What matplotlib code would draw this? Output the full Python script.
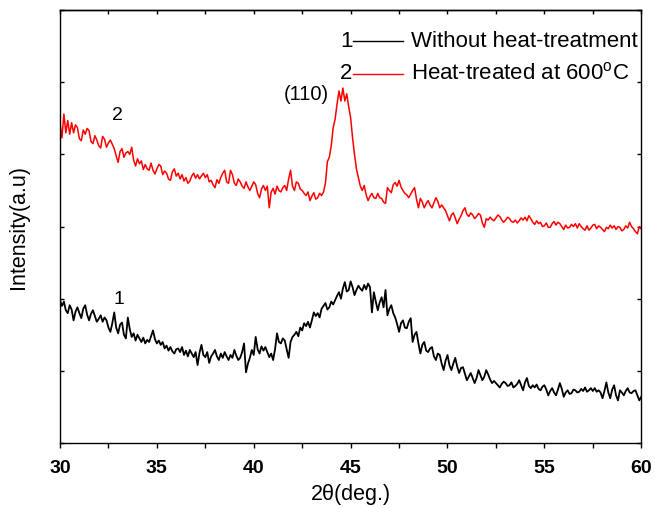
import numpy as np
import matplotlib
matplotlib.use("Agg")
import matplotlib.pyplot as plt

plt.rcParams['font.family'] = ['Liberation Sans', 'DejaVu Sans']
plt.rcParams['mathtext.fontset'] = 'custom'
plt.rcParams['mathtext.rm'] = 'Liberation Sans'

# 2theta grid (deg), 0.1 deg step as in the scan
two_theta = np.round(np.arange(30.0, 60.001, 0.1), 1)

# Intensity (a.u.), one value per 0.1 deg
# curve 2: heat-treated at 600 C
intensity_2 = [
    443, 423, 456, 430, 447, 428, 444, 430, 441, 437,   # 30
    422, 419, 434, 428, 436, 433, 418, 415, 426, 420,   # 31
    412, 409, 425, 421, 410, 416, 420, 414, 408, 398,   # 32
    389, 404, 408, 396, 402, 404, 400, 410, 392, 384,   # 33
    394, 387, 391, 379, 386, 380, 378, 388, 378, 373,   # 34
    380, 386, 384, 372, 377, 374, 366, 364, 376, 380,   # 35
    370, 374, 366, 372, 363, 368, 360, 363, 370, 374,   # 36
    367, 372, 366, 370, 374, 368, 372, 362, 364, 358,   # 37
    354, 365, 360, 368, 374, 378, 362, 360, 378, 372,   # 38
    360, 357, 366, 362, 356, 353, 362, 355, 350, 356,   # 39
    362, 358, 346, 340, 352, 357, 350, 356, 326, 348,   # 40
    353, 345, 356, 350, 348, 354, 357, 350, 366, 378,   # 41
    356, 350, 362, 360, 352, 350, 346, 343, 348, 336,   # 42
    342, 347, 338, 340, 346, 343, 348, 360, 390, 396,   # 43
    412, 437, 449, 470, 488, 474, 492, 474, 484, 466,   # 44
    451, 423, 400, 380, 368, 356, 350, 357, 344, 336,   # 45
    342, 346, 340, 339, 346, 340, 339, 334, 332, 354,   # 46
    350, 347, 358, 361, 356, 364, 355, 350, 346, 344,   # 47
    340, 345, 350, 354, 338, 326, 339, 334, 326, 332,   # 48
    336, 330, 326, 333, 340, 335, 326, 330, 326, 322,   # 49
    315, 308, 316, 319, 312, 304, 310, 315, 322, 326,   # 50
    317, 314, 319, 316, 311, 314, 318, 316, 305, 299,   # 51
    311, 309, 313, 310, 308, 312, 316, 314, 309, 306,   # 52
    309, 313, 311, 307, 306, 309, 305, 308, 312, 309,   # 53
    313, 308, 315, 311, 306, 303, 308, 304, 306, 300,   # 54
    301, 305, 299, 299, 304, 307, 302, 306, 304, 300,   # 55
    296, 302, 298, 299, 303, 300, 304, 298, 304, 300,   # 56
    297, 295, 301, 295, 298, 302, 303, 297, 301, 299,   # 57
    296, 293, 299, 297, 302, 298, 301, 296, 300, 299,   # 58
    294, 296, 301, 298, 306, 300, 297, 293, 290, 300,   # 59
    297]                                                # 60

# curve 1: without heat-treatment
intensity_1 = [
    198, 190, 196, 184, 180, 191, 185, 170, 182, 188,   # 30
    180, 173, 186, 191, 178, 170, 179, 184, 176, 168,   # 31
    172, 177, 168, 174, 170, 160, 154, 166, 181, 160,   # 32
    152, 164, 167, 150, 145, 174, 158, 147, 152, 142,   # 33
    150, 145, 140, 146, 138, 143, 140, 148, 156, 144,   # 34
    138, 142, 136, 140, 131, 135, 128, 133, 127, 124,   # 35
    130, 131, 126, 133, 122, 128, 120, 129, 124, 119,   # 36
    126, 108, 125, 136, 122, 119, 126, 111, 120, 124,   # 37
    129, 120, 115, 124, 118, 126, 120, 115, 122, 118,   # 38
    129, 121, 115, 118, 126, 138, 98, 110, 118, 129,    # 39
    122, 147, 130, 124, 134, 128, 133, 126, 119, 124,   # 40
    115, 130, 152, 140, 138, 145, 142, 130, 118, 140,   # 41
    147, 150, 154, 148, 160, 156, 166, 162, 168, 160,   # 42
    170, 181, 176, 180, 174, 186, 190, 194, 185, 188,   # 43
    196, 192, 198, 204, 209, 200, 214, 223, 210, 212,   # 44
    224, 216, 205, 212, 218, 214, 211, 219, 213, 221,   # 45
    216, 181, 209, 196, 184, 195, 202, 188, 212, 177,   # 46
    186, 191, 180, 174, 165, 154, 166, 170, 160, 159,   # 47
    168, 173, 140, 150, 154, 138, 124, 136, 140, 128,   # 48
    126, 131, 133, 120, 115, 124, 122, 110, 101, 114,   # 49
    122, 108, 101, 110, 118, 106, 97, 104, 105, 96,     # 50
    87, 92, 97, 90, 83, 90, 101, 94, 87, 92,            # 51
    101, 95, 88, 83, 86, 83, 80, 77, 82, 85,            # 52
    83, 79, 80, 84, 77, 79, 82, 87, 80, 73,             # 53
    84, 90, 79, 76, 80, 77, 81, 75, 73, 78,             # 54
    80, 74, 66, 72, 76, 70, 66, 74, 83, 75,             # 55
    64, 70, 73, 68, 69, 74, 73, 70, 71, 75,             # 56
    72, 77, 71, 73, 76, 72, 76, 71, 73, 70,             # 57
    62, 72, 84, 70, 62, 74, 80, 66, 59, 73,             # 58
    70, 66, 72, 76, 70, 69, 72, 73, 66, 59,             # 59
    64]                                                 # 60

x_ticks = [30, 35, 40, 45, 50, 55, 60]
legend_labels = ["Without heat-treatment", r"Heat-treated at 600$^{\rm o}$C"]

fig = plt.figure(figsize=(6.55, 5.08), dpi=100)
ax = fig.add_axes([0.0916, 0.128, 0.8874, 0.852])

ax.plot(two_theta, intensity_1, color='black', lw=1.3)
ax.plot(two_theta, intensity_2, color='red', lw=1.1)

ax.set_xlim(30, 60)
ax.set_ylim(0, 600)

# Ticks: bottom outward with labels, top/left/right inward without labels
ax.set_xticks(x_ticks)
ax.set_xticks(np.arange(32.5, 60, 5), minor=True)
ax.set_yticks(np.arange(0, 601, 100))
ax.tick_params(axis='x', which='both', direction='out', length=3.5, width=1.0,
               pad=9, labelsize=14, top=False)
for lab in ax.get_xticklabels():
    lab.set_fontweight('bold')
ax.tick_params(axis='y', which='both', direction='in', length=3, width=1.0,
               left=True, right=True, labelleft=False)

top = ax.secondary_xaxis('top')
top.set_xticks(np.arange(30, 60.1, 2.5))
top.tick_params(direction='in', length=3, width=1.0, labeltop=False)

for s in ax.spines.values():
    s.set_linewidth(1.0)
top.spines['top'].set_linewidth(1.0)

ax.set_xlabel("2θ(deg.)", fontsize=15.5, labelpad=5)
ax.set_ylabel("Intensity(a.u)", fontsize=15.5, labelpad=22)

# Curve annotations
ax.text(42.73, 483, "(110)", fontsize=14.5, ha='center', va='center')
ax.text(32.94, 454, "2", fontsize=14, ha='center', va='center')
ax.text(33.04, 199, "1", fontsize=14, ha='center', va='center')

# Hand-drawn legend
leg_y = [557, 512]
leg_colors = ['black', 'red']
for i, (lab, yy, c) in enumerate(zip(legend_labels, leg_y, leg_colors)):
    ax.text(44.79, yy, str(i + 1), fontsize=16, ha='center', va='center')
    ax.plot([45.12, 47.70], [yy, yy], color=c, lw=1.0)
    ax.text(48.11, yy, lab, fontsize=16, ha='left', va='center')

fig.savefig("out.png", dpi=100)
